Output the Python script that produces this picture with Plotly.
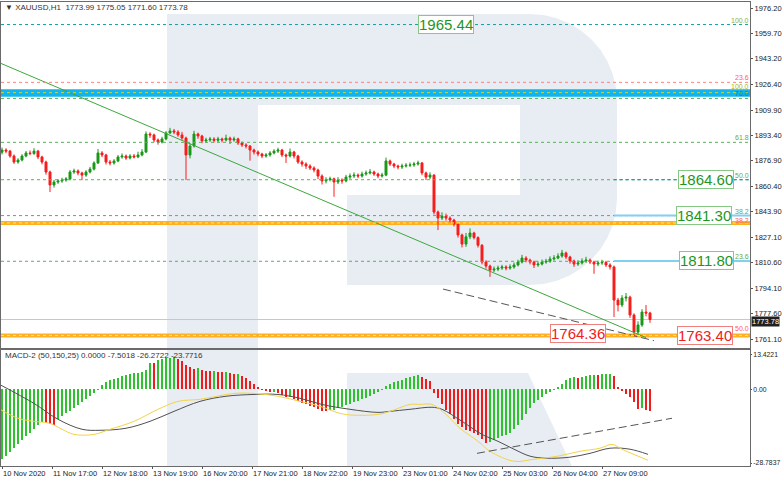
import math
import plotly.graph_objects as go

# ---------------- data ----------------
# 2-hour candles, XAUUSD H1 chart
closes = [1883.9,1883.2,1880.0,1876.1,1877.4,1880.0,1882.0,1881.6,1883.2,1879.4,
          1876.1,1869.6,1861.2,1863.1,1863.8,1864.4,1865.1,1869.6,1870.3,1869.0,
          1867.6,1869.6,1871.5,1875.5,1882.0,1880.7,1876.1,1875.5,1876.8,1879.4,
          1880.0,1878.7,1880.0,1879.4,1880.7,1882.6,1894.3,1893.7,1890.4,1889.1,
          1891.1,1895.0,1896.3,1895.6,1893.7,1891.7,1880.7,1886.5,1894.3,1893.0,
          1889.8,1890.4,1891.0,1890.2,1891.1,1890.4,1891.6,1890.4,1891.1,1888.5,
          1887.2,1886.5,1883.9,1882.6,1881.3,1880.0,1880.7,1882.0,1883.2,1883.9,
          1880.7,1880.0,1882.6,1880.0,1876.1,1874.8,1873.5,1872.2,1870.9,1867.0,
          1863.8,1864.6,1865.2,1863.1,1864.4,1863.8,1866.3,1867.0,1867.6,1867.0,
          1868.3,1869.0,1869.6,1868.3,1867.0,1867.6,1876.8,1874.8,1873.5,1872.9,
          1873.5,1874.0,1874.2,1874.8,1875.5,1869.0,1866.3,1867.6,1843.6,1839.7,
          1841.0,1839.7,1838.4,1835.8,1828.7,1822.8,1827.5,1830.0,1827.0,1822.0,
          1811.1,1808.5,1805.9,1806.5,1807.2,1807.9,1807.2,1807.9,1809.2,1811.1,
          1813.7,1812.4,1811.1,1809.2,1809.8,1811.1,1811.6,1813.1,1813.7,1815.0,
          1817.0,1814.4,1811.8,1809.8,1810.5,1811.8,1812.4,1811.1,1809.8,1810.5,
          1810.9,1809.2,1807.9,1786.4,1783.2,1787.7,1788.3,1776.7,1765.6,1770.2,
          1778.6,1778.0,1773.78]
highs = [1885.5,1885.0,1884.0,1881.0,1878.6,1881.2,1883.3,1883.6,1885.1,1884.0,
         1880.2,1877.0,1870.5,1864.5,1865.0,1865.9,1866.3,1870.9,1871.8,1871.3,
         1869.8,1870.8,1873.0,1876.6,1884.6,1883.2,1881.5,1877.4,1878.0,1880.6,
         1881.7,1881.0,1881.2,1881.3,1882.8,1884.5,1896.0,1895.5,1894.6,1891.4,
         1892.5,1896.2,1898.3,1897.6,1896.8,1895.7,1892.6,1888.0,1896.4,1895.2,
         1893.8,1891.9,1892.4,1892.2,1892.5,1892.0,1893.9,1892.6,1892.6,1891.9,
         1889.4,1888.3,1887.1,1884.8,1883.6,1882.1,1881.9,1883.2,1884.4,1885.4,
         1884.7,1881.6,1884.9,1883.4,1880.8,1877.2,1875.9,1874.6,1873.3,1871.8,
         1868.1,1866.2,1866.6,1866.0,1866.3,1865.5,1867.8,1868.7,1869.4,1868.7,
         1869.9,1870.6,1871.6,1870.5,1869.2,1869.1,1879.0,1877.7,1875.6,1874.4,
         1875.0,1875.4,1875.8,1876.2,1877.0,1876.1,1869.9,1869.4,1868.2,1844.6,
         1843.4,1842.6,1840.8,1839.2,1836.5,1829.6,1830.0,1833.0,1830.8,1827.8,
         1822.8,1812.3,1809.4,1808.2,1808.8,1809.3,1809.0,1809.6,1810.8,1812.6,
         1815.8,1814.9,1813.3,1812.0,1811.6,1812.7,1813.2,1814.8,1815.6,1816.8,
         1819.0,1817.9,1815.2,1812.7,1812.2,1813.5,1814.5,1813.4,1812.0,1812.0,
         1812.6,1811.9,1810.3,1808.8,1787.8,1789.6,1791.0,1789.2,1777.8,1772.6,
         1780.5,1783.2,1778.8]
lows = [1881.0,1881.8,1878.9,1874.9,1875.0,1876.5,1879.2,1880.5,1880.8,1878.0,
        1874.6,1867.9,1856.6,1859.5,1861.9,1862.6,1863.3,1864.2,1868.4,1867.5,
        1864.4,1866.5,1868.7,1870.6,1874.8,1879.3,1874.5,1873.9,1874.4,1876.0,
        1878.3,1877.5,1877.8,1878.4,1878.6,1879.8,1881.9,1891.8,1889.0,1887.4,
        1888.2,1890.2,1894.3,1894.2,1892.5,1890.2,1864.4,1878.5,1885.5,1891.2,
        1888.3,1888.6,1889.2,1888.8,1889.0,1888.9,1889.5,1887.8,1889.3,1887.2,
        1885.9,1884.9,1877.0,1881.0,1879.8,1878.6,1878.9,1879.6,1881.1,1882.0,
        1879.3,1875.5,1879.1,1878.4,1874.9,1873.1,1871.6,1870.9,1869.4,1865.0,
        1861.5,1862.2,1863.5,1853.5,1861.8,1862.0,1862.9,1865.1,1865.8,1865.6,
        1866.0,1867.2,1868.0,1867.1,1865.6,1866.0,1866.9,1873.5,1872.1,1871.3,
        1871.6,1872.5,1872.8,1873.0,1873.8,1867.5,1864.4,1865.1,1842.0,1831.9,
        1838.4,1838.0,1836.9,1834.2,1827.0,1820.6,1821.0,1826.0,1825.8,1820.5,
        1809.6,1806.8,1801.5,1804.6,1805.2,1806.0,1805.7,1806.1,1806.8,1808.3,
        1810.2,1810.9,1809.6,1807.2,1808.0,1808.9,1810.0,1810.6,1812.0,1812.9,
        1813.9,1813.0,1810.1,1808.0,1808.6,1809.5,1810.6,1809.8,1803.5,1808.4,
        1809.3,1807.9,1806.2,1775.4,1779.0,1781.8,1785.5,1774.8,1763.0,1764.0,
        1769.0,1775.8,1771.6]
first_open = 1882.5

macd_hist = [-27.3,-25.9,-24.4,-22.9,-21.4,-19.9,-18.4,-17.0,-15.5,-14.0,
             -12.7,-13.3,-13.7,-13.8,-11.5,-10.5,-9.4,-8.4,-7.2,-6.0,
             -5.1,-3.9,-2.7,-1.6,-0.4,1.6,2.7,3.5,4.1,4.5,
             5.1,5.5,5.9,6.2,6.4,6.8,7.4,10.3,10.1,11.3,
             11.7,12.1,12.3,12.5,11.9,10.9,9.4,8.6,8.0,8.2,
             7.6,7.2,7.0,7.1,6.8,6.6,6.7,6.2,5.9,6.0,
             5.1,4.3,3.1,2.0,0.8,-0.2,-0.8,-1.2,-1.0,-1.6,
             -2.3,-3.1,-2.9,-3.9,-4.7,-5.3,-5.9,-6.4,-7.0,-7.8,
             -8.4,-8.6,-8.2,-8.0,-7.4,-6.8,-6.2,-5.7,-5.1,-4.5,
             -3.9,-3.3,-2.7,-2.0,-1.2,-0.4,1.2,2.0,2.7,3.3,
             3.7,4.3,4.7,5.1,5.5,4.7,3.9,3.1,-1.6,-3.5,
             -5.9,-8.2,-9.8,-11.7,-13.7,-14.8,-15.8,-16.4,-17.2,-17.9,
             -19.5,-20.9,-20.5,-19.9,-18.9,-18.3,-17.7,-17.2,-15.6,-14.0,
             -12.1,-9.8,-7.4,-5.5,-4.1,-2.9,-2.0,-1.0,-0.2,0.8,
             2.1,3.5,4.3,4.7,4.5,4.9,5.3,5.5,5.7,5.6,
             5.9,6.0,6.1,5.1,0.8,-0.8,-1.8,-3.1,-5.1,-7.6,
             -7.4,-8.2,-8.4]

macd_black_pos = [-1,16,28,40,49,62,74,86,99,112,126,138,149,160,174,188,194,204,
                  215,220,230,240,248,256,264,272,284,294,304,314,323]
macd_black = [1.8,-5.5,-11.7,-15.6,-16.0,-15.2,-12.5,-8.6,-4.7,-2.7,-2.0,-2.0,-3.5,
              -5.9,-7.8,-9.0,-8.6,-7.8,-7.0,-7.8,-12.5,-17.6,-20.3,-23.4,-26.1,
              -26.9,-26.5,-25.0,-23.0,-23.4,-25.4]
macd_yellow_pos = [-1,8,16,24,30,36,46,54,66,78,88,99,116,126,138,149,159,169,176,
                   188,194,204,209,215,222,229,238,244,256,266,278,289,299,305,
                   310,318,323]
macd_yellow = [-7.8,-11.3,-12.5,-13.3,-15.6,-17.6,-17.6,-15.6,-12.5,-7.8,-4.7,-3.9,
               -1.6,-1.6,-2.7,-4.7,-6.6,-9.4,-10.1,-9.8,-8.6,-5.9,-5.9,-5.9,-9.8,
               -15.2,-20.3,-24.2,-28.1,-27.3,-26.1,-24.2,-23.0,-21.5,-23.4,-26.1,
               -27.7]

x_tick_pos = [0, 25, 50, 75, 100, 125, 150, 175, 200, 225, 250, 275, 300]
x_tick_labels = ["10 Nov 2020", "11 Nov 17:00", "12 Nov 18:00", "13 Nov 19:00",
                 "16 Nov 20:00", "17 Nov 21:00", "18 Nov 22:00", "19 Nov 23:00",
                 "23 Nov 01:00", "24 Nov 02:00", "25 Nov 03:00", "26 Nov 04:00",
                 "27 Nov 09:00"]
price_ticks = [1976.20, 1959.70, 1943.20, 1926.40, 1909.90, 1893.40, 1876.90,
               1860.40, 1843.90, 1827.10, 1810.60, 1794.10, 1777.60, 1761.10]
macd_ticks = [13.4221, 0.0, -28.7837]
macd_tick_labels = ["13.4221", "0.00", "-28.7837"]
last_price = 1773.78

# trend lines (bar position, price)
trend_green_pos = [-1, 322]
trend_green_val = [1940.45, 1762.0]
trend_dash_pos = [220.5, 326]
trend_dash_val = [1793.55, 1760.0]
macd_dash_pos = [237.5, 335]
macd_dash_val = [-25.0, -11.3]

# horizontal levels
lvl_top = 1965.44
lvl_red236 = 1927.9
blue_band = [1918.6, 1923.4]
lvl_yellow100 = 1921.2
lvl_green76 = 1917.4
fib_levels = [1888.9, 1864.6, 1841.3, 1811.6]
fib_labels = ["61.8", "50.0", "38.2", "23.6"]
orange_bands = [1836.5, 1763.4]
blue_segments = [1841.3, 1811.8]
box_green = [1965.44, 1864.60, 1841.30, 1811.80]
box_red = [1764.36, 1763.40]

# ---------------- geometry helpers ----------------
W, H = 782, 480
ML, MR, MT, MB = 1, 32, 2, 14
PW, PH = W - ML - MR, H - MT - MB


def pxx(px):
    return (px - ML) / PW


def pxy(py):
    return (H - MB - py) / PH


opens = [first_open] + closes[:-1]
bar_pos = [2 * i for i in range(len(closes))]
hist_colors = ['#2ec22e' if (i == 0 or macd_hist[i] >= macd_hist[i - 1]) else '#f01c1c'
               for i in range(len(macd_hist))]

X_RANGE = [-0.5, 374]
FONT = "Liberation Sans"

fig = go.Figure()

fig.add_trace(go.Candlestick(
    x=bar_pos, open=opens, high=highs, low=lows, close=closes,
    increasing=dict(line=dict(color='#189818', width=1), fillcolor='#189818'),
    decreasing=dict(line=dict(color='#f81c1c', width=1), fillcolor='#f81c1c'),
    whiskerwidth=0, xaxis='x', yaxis='y', showlegend=False, hoverinfo='skip'))

fig.add_trace(go.Scatter(x=trend_green_pos, y=trend_green_val, mode='lines',
                         line=dict(color='#3ca83c', width=1), xaxis='x', yaxis='y',
                         showlegend=False, hoverinfo='skip'))
fig.add_trace(go.Scatter(x=trend_dash_pos, y=trend_dash_val, mode='lines',
                         line=dict(color='#555555', width=1, dash='8px,4px'),
                         xaxis='x', yaxis='y', showlegend=False, hoverinfo='skip'))

fig.add_trace(go.Bar(x=bar_pos, y=macd_hist, marker=dict(color=hist_colors, line=dict(width=0)),
                     width=1.3, xaxis='x2', yaxis='y2', showlegend=False, hoverinfo='skip'))
fig.add_trace(go.Scatter(x=macd_black_pos, y=macd_black, mode='lines',
                         line=dict(color='#505050', width=1, shape='spline'),
                         xaxis='x2', yaxis='y2', showlegend=False, hoverinfo='skip'))
fig.add_trace(go.Scatter(x=macd_yellow_pos, y=macd_yellow, mode='lines',
                         line=dict(color='#f2d44a', width=1, shape='spline'),
                         xaxis='x2', yaxis='y2', showlegend=False, hoverinfo='skip'))
fig.add_trace(go.Scatter(x=macd_dash_pos, y=macd_dash_val, mode='lines',
                         line=dict(color='#555555', width=1, dash='8px,4px'),
                         xaxis='x2', yaxis='y2', showlegend=False, hoverinfo='skip'))

shapes = []
WM = 'rgb(232,236,243)'


def rect_px(x0, y0, x1, y1, color):
    return dict(type='rect', xref='paper', yref='paper', x0=pxx(x0), x1=pxx(x1),
                y0=pxy(y1), y1=pxy(y0), fillcolor=color, line=dict(width=0), layer='below')


# watermark "R"
shapes.append(rect_px(167, 14, 258, 466, WM))
pts = [(258, 14), (530, 14)]
cx, cy, r = 530, 101, 87
for i in range(1, 11):
    a = -math.pi / 2 + (math.pi / 2) * i / 10
    pts.append((cx + r * math.cos(a), cy + r * math.sin(a)))
cx, cy = 530, 198
for i in range(0, 11):
    a = (math.pi / 2) * i / 10
    pts.append((cx + r * math.cos(a), cy + r * math.sin(a)))
pts += [(347, 285), (347, 195), (520, 195), (520, 105), (258, 105)]
path = 'M ' + ' L '.join('%.5f,%.5f' % (pxx(x), pxy(y)) for x, y in pts) + ' Z'
shapes.append(dict(type='path', xref='paper', yref='paper', path=path, fillcolor=WM,
                   line=dict(width=0), layer='below'))
leg = [(347, 373), (528, 373), (572, 466), (347, 466)]
path = 'M ' + ' L '.join('%.5f,%.5f' % (pxx(x), pxy(y)) for x, y in leg) + ' Z'
shapes.append(dict(type='path', xref='paper', yref='paper', path=path, fillcolor=WM,
                   line=dict(width=0), layer='below'))


def hline(y, color, dash='dot', width=1, x0=X_RANGE[0], x1=X_RANGE[1], layer='above'):
    return dict(type='line', xref='x', yref='y', x0=x0, x1=x1, y0=y, y1=y,
                line=dict(color=color, width=width, dash=dash), layer=layer)


# bands
shapes.append(dict(type='rect', xref='x', yref='y', x0=X_RANGE[0], x1=X_RANGE[1],
                   y0=blue_band[0], y1=blue_band[1], fillcolor='#12b4ee',
                   line=dict(width=0), layer='below'))
for ob in orange_bands:
    shapes.append(dict(type='rect', xref='x', yref='y', x0=X_RANGE[0], x1=X_RANGE[1],
                       y0=ob - 1.3, y1=ob + 1.3, fillcolor='#ffb020',
                       line=dict(width=0), layer='below'))
    shapes.append(hline(ob, '#ffe860', 'dot', 1))

shapes.append(hline(last_price, '#c8c8c8', 'solid', 1, layer='below'))
shapes.append(hline(lvl_top, '#10a0a0', 'dot'))
shapes.append(hline(lvl_red236, '#ff8080', 'dot'))
shapes.append(hline(lvl_yellow100, '#d8d020', 'dot'))
shapes.append(hline(lvl_green76, '#60b060', 'dot'))
for lv in fib_levels:
    shapes.append(hline(lv, '#58b058', 'dot'))
shapes.append(hline(fib_levels[1], '#1090b0', 'dot', x0=306))
for lv in blue_segments:
    shapes.append(hline(lv, '#80d0f0', 'solid', 2, x0=306))

annotations = []


def small_label(text, y, color, anchor='bottom'):
    annotations.append(dict(text=text, x=1.0, xref='paper', y=y, yref='y', xanchor='right',
                            yanchor=anchor, showarrow=False,
                            font=dict(family=FONT, size=7, color=color), borderpad=0))


small_label("100.0", lvl_top, '#8ab04a')
small_label("23.6", lvl_red236, '#ff6060')
small_label("100.0", lvl_yellow100 + 1.0, '#a8b820')
small_label("76.0", lvl_green76, '#0a8a70')
for lv, lb in zip(fib_levels, fib_labels):
    small_label(lb, lv, '#6aaa3a')
small_label("38.2", fib_levels[2], '#ff6060', 'top')
small_label("50.0", orange_bands[1] + 1.5, '#ff6060')

box_x_green = [446, 706, 704, 706]
for val, bx in zip(box_green, box_x_green):
    annotations.append(dict(text='%.2f' % val, x=pxx(bx), xref='paper', y=val, yref='y',
                            xanchor='center', yanchor='middle', showarrow=False,
                            font=dict(family=FONT, size=15, color='#1e961e'),
                            bgcolor='white', bordercolor='#86c886', borderwidth=1, borderpad=0))
box_x_red = [578, 705]
for val, bx in zip(box_red, box_x_red):
    annotations.append(dict(text='%.2f' % val, x=pxx(bx), xref='paper', y=val, yref='y',
                            xanchor='center', yanchor='middle', showarrow=False,
                            font=dict(family=FONT, size=15, color='#f02020'),
                            bgcolor='white', bordercolor='#f08080', borderwidth=1, borderpad=0))

annotations.append(dict(text='%.2f' % last_price, x=1.0, xref='paper', xshift=1, y=last_price,
                        yref='y', yshift=-2, xanchor='left', yanchor='middle', showarrow=False,
                        font=dict(family=FONT, size=7.5, color='white'), bgcolor='#202020',
                        borderpad=0))
annotations.append(dict(text='\u25bc XAUUSD,H1  1773.99 1775.05 1771.60 1773.78',
                        x=pxx(3), xref='paper', y=pxy(7), yref='paper', xanchor='left',
                        yanchor='middle', showarrow=False,
                        font=dict(family=FONT, size=8, color='#333333')))
annotations.append(dict(text='MACD-2 (50,150,25) 0.0000 -7.5018 -26.2722 -23.7716',
                        x=pxx(3), xref='paper', y=pxy(355), yref='paper', xanchor='left',
                        yanchor='middle', showarrow=False,
                        font=dict(family=FONT, size=8, color='#333333')))

axis_font = dict(family=FONT, size=7.5, color='#222222')
macd_font = dict(family=FONT, size=6.8, color='#222222')
top_dom = [pxy(348), 1.0]
bot_dom = [0.0, pxy(350)]

fig.update_layout(
    width=W, height=H, margin=dict(l=ML, r=MR, t=MT, b=MB, pad=0, autoexpand=False),
    paper_bgcolor='white', plot_bgcolor='white', showlegend=False,
    bargap=0, shapes=shapes, annotations=annotations,
    xaxis=dict(domain=[0, 1], anchor='y', range=X_RANGE, showticklabels=False,
               showgrid=False, zeroline=False, showline=True, mirror=True,
               linecolor='#6a6a6a', linewidth=1, rangeslider=dict(visible=False),
               automargin=False),
    xaxis2=dict(domain=[0, 1], anchor='y2', range=X_RANGE, matches='x',
                tickvals=x_tick_pos, ticktext=x_tick_labels, ticks='outside', ticklen=2,
                tickcolor='#555555', ticklabelposition='outside right', tickangle=0,
                tickfont=axis_font, showgrid=False, zeroline=False, showline=True,
                mirror=True, linecolor='#6a6a6a', linewidth=1, automargin=False),
    yaxis=dict(domain=top_dom, anchor='x', side='right', range=[1755.25, 1980.1],
               tickvals=price_ticks, ticktext=['%.2f' % v for v in price_ticks],
               ticks='outside', ticklen=2, tickcolor='#555555', tickfont=axis_font,
               showgrid=False, zeroline=False, showline=True, mirror=True,
               linecolor='#6a6a6a', linewidth=1, automargin=False),
    yaxis2=dict(domain=bot_dom, anchor='x2', side='right', range=[-29.95, 15.37],
                tickvals=macd_ticks, ticktext=macd_tick_labels,
                ticks='outside', ticklen=1, tickcolor='#555555', tickfont=macd_font,
                showgrid=False, zeroline=False, showline=True, mirror=True,
                linecolor='#6a6a6a', linewidth=1, automargin=False),
)

fig.write_html("out.html", config={'displayModeBar': False, 'staticPlot': True},
               post_script="document.body.style.margin='0px';document.body.style.overflow='hidden';")
